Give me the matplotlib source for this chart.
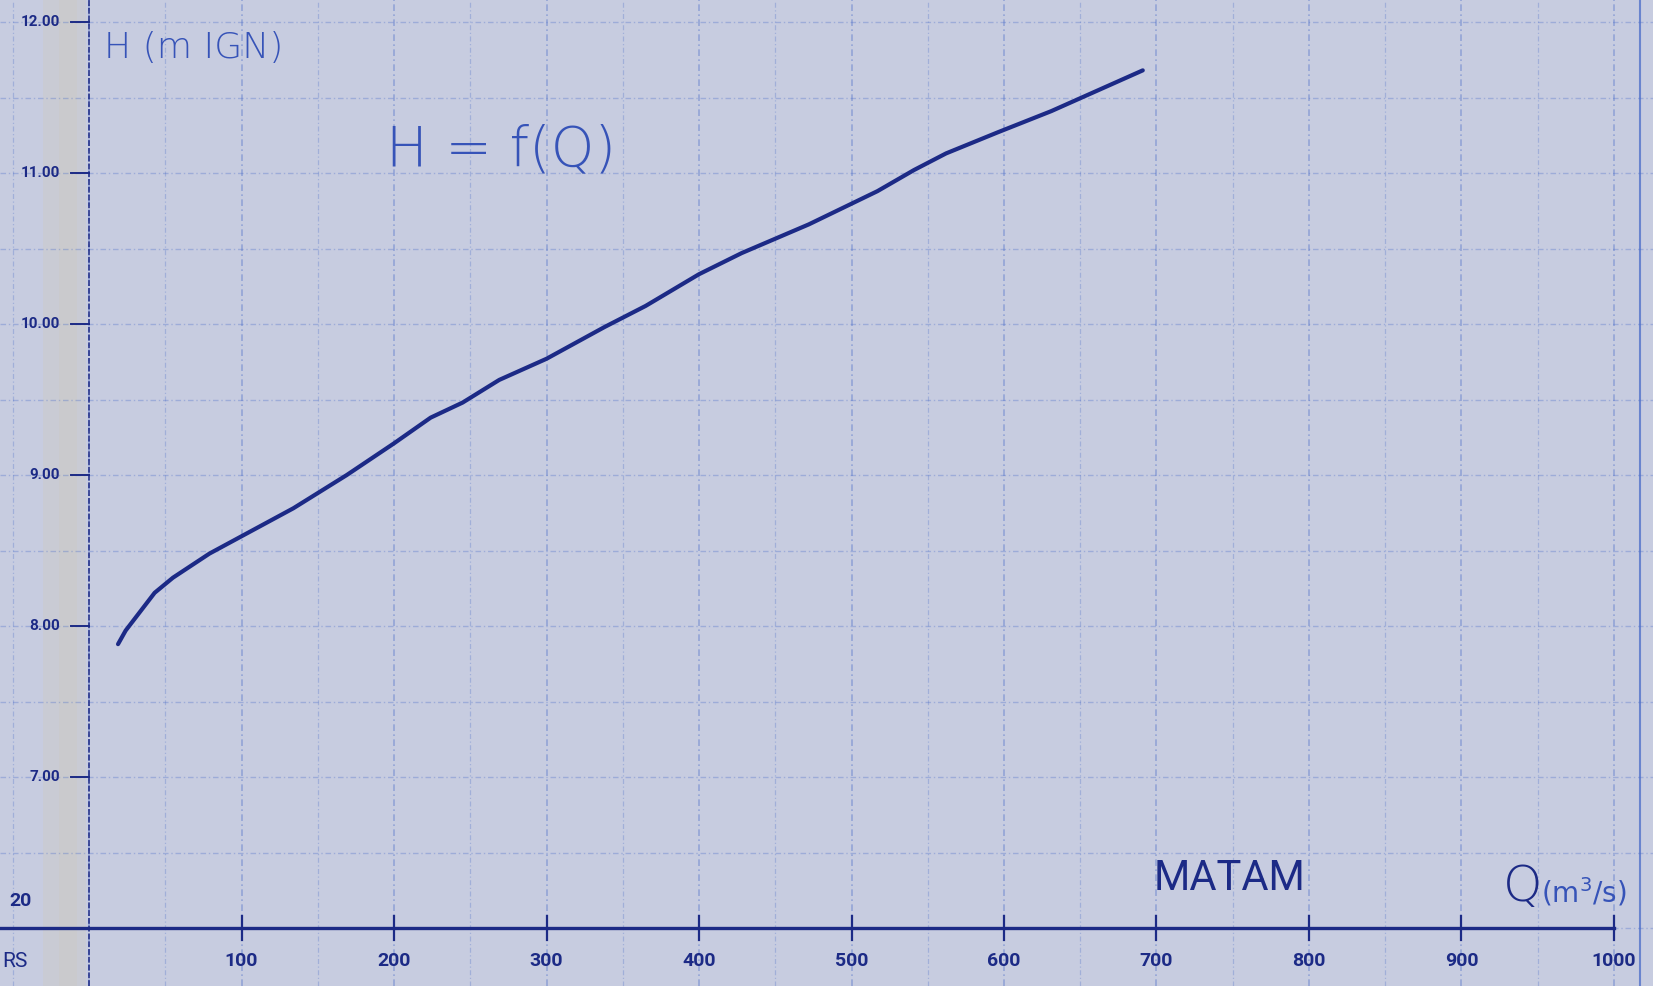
import numpy as np
import matplotlib.pyplot as plt

# Courbe de tarage H = f(Q), MATAM
q = [19, 24, 43, 55, 79, 134, 169, 200, 224, 245, 269, 300, 338, 365,
     400, 428, 472, 517, 541, 562, 596, 631, 691]
h = [7.88, 7.97, 8.22, 8.32, 8.48, 8.78, 9.00, 9.21, 9.38, 9.48, 9.63, 9.77,
     9.98, 10.12, 10.33, 10.47, 10.66, 10.88, 11.02, 11.13, 11.27, 11.41, 11.68]

x_ticks = [100, 200, 300, 400, 500, 600, 700, 800, 900, 1000]
x_tick_labels = ['100', '200', '300', '400', '500', '600', '700', '800', '900', '1000']
y_ticks = [7, 8, 9, 10, 11, 12]
y_tick_labels = ['7.00', '8.00', '9.00', '10.00', '11.00', '12.00']
h_axis = 6.0

paper = '#c7cce0'
grid_c = '#4a6cc8'
ink = '#1c2a86'
pen = '#3653b8'
narrow = ['Liberation Sans Narrow', 'Roboto', 'DejaVu Sans']

fig = plt.figure(figsize=(16.53, 9.86), dpi=100, facecolor=paper)
ax = fig.add_axes([0, 0, 1, 1])
ax.set_facecolor(paper)
ax.set_xlim(-58.4, 1025.6)
ax.set_ylim(5.616, 12.146)
ax.axis('off')

# teinte jaunie du bord gauche
ax.axvspan(-30, -2, color='#d6c7a8', alpha=0.2, lw=0)
ax.axvspan(-20, -8, color='#d6c7a8', alpha=0.15, lw=0)

# quadrillage du papier
for xv in np.arange(-50, 1026, 50):
    strong = xv % 100 == 0
    ax.axvline(xv, color=grid_c, lw=1.2 if strong else 0.9,
               alpha=0.42 if strong else 0.3, ls=(0, (4, 2, 1, 2)))
for yv in np.arange(5.5, 12.2, 0.5):
    ax.axhline(yv, color=grid_c, lw=1.0, alpha=0.33, ls=(0, (4, 2, 1, 2)))
ax.axvline(1017, color=grid_c, lw=1.5, alpha=0.75)

# axes
ax.axvline(0, color=ink, lw=1.4, ls=(0, (3, 1)), alpha=0.8)
ax.plot([-60, 1000], [h_axis, h_axis], color=ink, lw=2.4)
for xv, lab in zip(x_ticks, x_tick_labels):
    ax.plot([xv, xv], [h_axis - 0.08, h_axis + 0.08], color=ink, lw=1.6)
    ax.text(xv, h_axis - 0.22, lab, ha='center', va='center', color=ink,
            fontsize=14, fontweight='bold', family=narrow)
for yv, lab in zip(y_ticks, y_tick_labels):
    ax.plot([-12, 0], [yv, yv], color=ink, lw=1.4)
    ax.text(-19, yv, lab, ha='right', va='center', color=ink,
            fontsize=11, fontweight='bold', family=narrow)
ax.text(-45, h_axis + 0.12, '20', ha='center', va='bottom', color=ink,
        fontsize=14, fontweight='bold', family=narrow)
ax.text(-57, h_axis - 0.22, 'RS', ha='left', va='center', color=ink,
        fontsize=15, family=narrow)

# courbe
ax.plot(q, h, color=ink, lw=3, solid_capstyle='round', solid_joinstyle='round')

# annotations
ax.text(10, 11.83, 'H (m IGN)', color=pen, fontsize=26, fontweight='light',
        va='center', ha='left', family=['DejaVu Sans'])
ax.text(195, 11.15, 'H = f(Q)', color=pen, fontsize=40, fontweight='light',
        va='center', ha='left', family=['DejaVu Sans'])
ax.text(698, 6.33, 'MATAM', color=ink, fontsize=30, va='center', ha='left',
        family=narrow)
ax.text(927, 6.27, 'Q', color=ink, fontsize=36, va='center', ha='left',
        family=['DejaVu Sans'], fontweight='light')
ax.text(952, 6.24, '(m$^3$/s)', color=pen, fontsize=20, va='center', ha='left',
        family=['DejaVu Sans'])

fig.savefig('out.png', dpi=100, facecolor=paper)
